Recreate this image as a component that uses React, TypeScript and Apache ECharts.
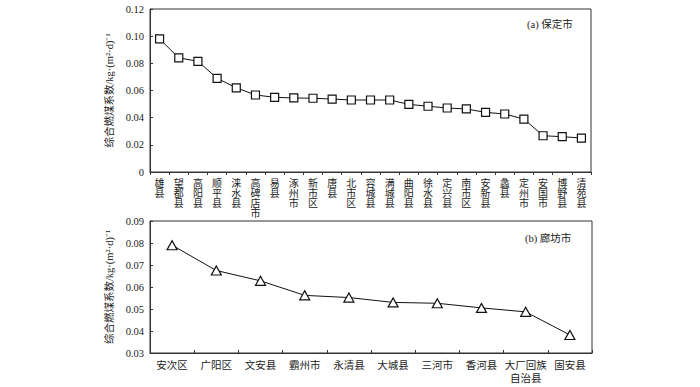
import React, { useEffect, useRef } from "react";
import * as echarts from "echarts";

const baodingCats = ["雄县", "望都县", "高阳县", "顺平县", "涞水县", "高碑店市", "易县", "涿州市", "新市区", "唐县", "北市区", "容城县", "满城县", "曲阳县", "徐水县", "定兴县", "南市区", "安新县", "蠡县", "定州市", "安国市", "博野县", "清苑县"];
const baodingVals = [0.098, 0.084, 0.0815, 0.069, 0.062, 0.0567, 0.055, 0.0545, 0.0543, 0.0537, 0.053, 0.053, 0.053, 0.0498, 0.0484, 0.0471, 0.0464, 0.0439, 0.0427, 0.039, 0.0267, 0.026, 0.025];

const langfangCats = ["安次区", "广阳区", "文安县", "霸州市", "永清县", "大城县", "三河市", "香河县", "大厂回族\n自治县", "固安县"];
const langfangVals = [0.079, 0.0675, 0.0628, 0.0562, 0.0552, 0.053, 0.0526, 0.0505, 0.0487, 0.0382];

const topTicks = [0, 0.02, 0.04, 0.06, 0.08, 0.1, 0.12];
const bottomTicks = [0.03, 0.04, 0.05, 0.06, 0.07, 0.08, 0.09];

const yName = "综合燃煤系数/kg·(m²·d)⁻¹";
const FONT = "'Liberation Serif', 'Noto Sans CJK SC', serif";
const AXIS = "#333";

export default function App() {
  const ref = useRef<HTMLDivElement>(null);
  useEffect(() => {
    document.body.style.margin = "0";
    const chart = echarts.init(ref.current!, null, { renderer: "svg" });
    const fmtTop = (v: number) => (v === 0 ? "0" : v.toFixed(2));
    chart.setOption({
      animation: false,
      backgroundColor: "#fff",
      textStyle: { fontFamily: FONT, color: "#222" },
      grid: [
        { left: 150, right: 109, top: 9, height: 163, show: true, borderColor: AXIS, borderWidth: 1, backgroundColor: "transparent" },
        { left: 150, right: 108, top: 221, height: 132, show: true, borderColor: AXIS, borderWidth: 1, backgroundColor: "transparent" },
      ],
      xAxis: [
        {
          type: "category", gridIndex: 0, data: baodingCats, boundaryGap: true,
          axisLine: { lineStyle: { color: AXIS } },
          axisTick: { show: true, inside: false, length: 3, lineStyle: { color: AXIS } },
          axisLabel: {
            interval: 0, fontSize: 10, lineHeight: 10, margin: 6, color: "#222", fontFamily: FONT,
            formatter: (s: string) => s.split("").join("\n"),
            padding: [0, 0, 0, 0],
          },
        },
        {
          type: "category", gridIndex: 1, data: langfangCats, boundaryGap: true,
          axisLine: { lineStyle: { color: AXIS } },
          axisTick: { show: true, inside: true, length: 3, lineStyle: { color: AXIS } },
          axisLabel: { interval: 0, fontSize: 10.5, lineHeight: 13, margin: 6, color: "#222", fontFamily: FONT },
        },
      ],
      yAxis: [
        {
          type: "value", gridIndex: 0, min: topTicks[0], max: topTicks[topTicks.length - 1], interval: 0.02,
          name: yName, nameLocation: "middle", nameGap: 32, nameRotate: 90,
          nameTextStyle: { fontSize: 10.5, fontFamily: FONT, color: "#222" },
          axisLine: { show: true, lineStyle: { color: AXIS } },
          axisTick: { show: true, inside: true, length: 3, lineStyle: { color: AXIS } },
          splitLine: { show: false },
          axisLabel: { fontSize: 10.5, margin: 6, color: "#222", fontFamily: FONT, formatter: fmtTop },
        },
        {
          type: "value", gridIndex: 1, min: bottomTicks[0], max: bottomTicks[bottomTicks.length - 1], interval: 0.01,
          name: yName, nameLocation: "middle", nameGap: 32, nameRotate: 90,
          nameTextStyle: { fontSize: 10.5, fontFamily: FONT, color: "#222" },
          axisLine: { show: true, lineStyle: { color: AXIS } },
          axisTick: { show: true, inside: true, length: 3, lineStyle: { color: AXIS } },
          splitLine: { show: false },
          axisLabel: { fontSize: 10.5, margin: 6, color: "#222", fontFamily: FONT, formatter: (v: number) => v.toFixed(2) },
        },
      ],
      graphic: [
        { type: "text", left: 527, top: 19, style: { text: "(a) 保定市", font: `10.5px ${FONT}`, fill: "#222" } },
        { type: "text", left: 525, top: 233, style: { text: "(b) 廊坊市", font: `10.5px ${FONT}`, fill: "#222" } },
      ],
      series: [
        {
          type: "line", xAxisIndex: 0, yAxisIndex: 0, data: baodingVals,
          symbol: "rect", symbolSize: 8,
          lineStyle: { color: "#111", width: 1 },
          itemStyle: { color: "#fff", borderColor: "#111", borderWidth: 1.2 },
        },
        {
          type: "line", xAxisIndex: 1, yAxisIndex: 1, data: langfangVals,
          symbol: "triangle", symbolSize: [10, 9],
          lineStyle: { color: "#111", width: 1 },
          itemStyle: { color: "#fff", borderColor: "#111", borderWidth: 1.2 },
        },
      ],
    });
    return () => chart.dispose();
  }, []);
  return <div ref={ref} style={{ width: 700, height: 387 }} />;
}
